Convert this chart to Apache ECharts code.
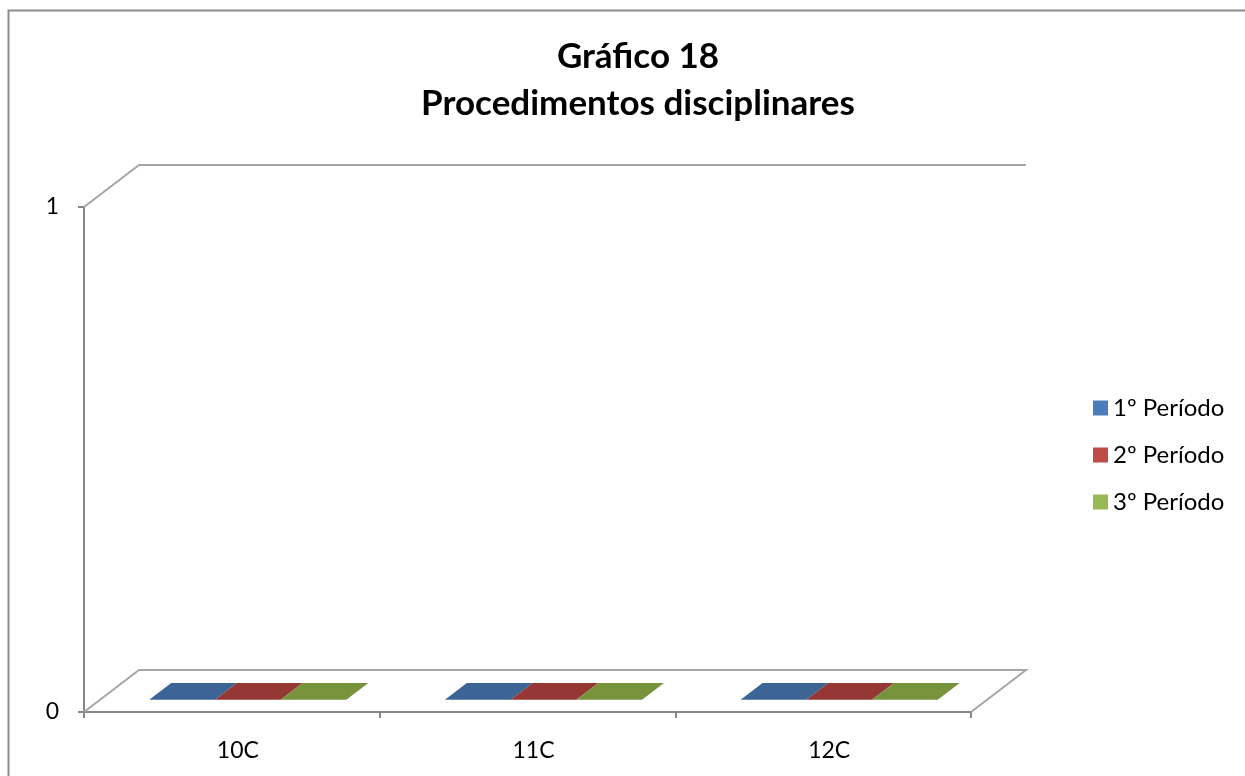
<!DOCTYPE html>
<html>
<head>
<meta charset="utf-8">
<script src="https://cdn.jsdelivr.net/npm/echarts@6/dist/echarts.min.js"></script>
<style>html,body{margin:0;padding:0;background:#fff;}#chart{width:1245px;height:776px;}</style>
</head>
<body>
<div id="chart"></div>
<script>
const titleText = "Gráfico 18\nProcedimentos disciplinares";
const categories = ["10C", "11C", "12C"];
const seriesNames = ["1º Período", "2º Período", "3º Período"];
const period1 = [0, 0, 0];
const period2 = [0, 0, 0];
const period3 = [0, 0, 0];
const yTicks = [0, 1];

const legendColors = ["#4a7ebb", "#be4b48", "#98b954"];
const topColors = ["#3c6494", "#953735", "#77933c"];
const frontColors = ["#4a7ebb", "#be4b48", "#98b954"];
const sideColors = ["#2f4f75", "#7a2d2b", "#5f7630"];
const DX = 55, DY = -42;
const F1 = 0.29, F2 = 0.69;
const FONT = "Lato";

const chart = echarts.init(document.getElementById('chart'));

function wallsRender(params, api) {
  const n = categories.length;
  const band = api.size([1, 0])[0];
  const p0 = api.coord([0, yTicks[0]]);
  const p1 = api.coord([n - 1, yTicks[yTicks.length - 1]]);
  const x0 = p0[0] - band / 2, x1 = p1[0] + band / 2;
  const yb = p0[1], yt = p1[1];
  const st = {stroke: '#a6a6a6', lineWidth: 2, fill: null};
  return {
    type: 'group',
    children: [
      {type: 'polyline', shape: {points: [[x0, yt], [x0 + DX, yt + DY], [x1 + DX, yt + DY]]}, style: st},
      {type: 'polyline', shape: {points: [[x0, yb], [x0 + DX, yb + DY], [x1 + DX, yb + DY], [x1, yb]]}, style: st}
    ]
  };
}

function barRender(si) {
  return function (params, api) {
    const idx = api.value(0), v = api.value(1);
    const top = api.coord([idx, v]);
    const base = api.coord([idx, 0]);
    const band = api.size([1, 0])[0];
    const bw = band / 4.5;
    const left = top[0] + (si - 1) * bw - bw / 2;
    const right = left + bw;
    const children = [];
    const ty = top[1], by = base[1];
    if (by - ty > 0.5) {
      children.push({type: 'polygon', shape: {points: [
        [right + F1 * DX, ty + F1 * DY], [right + F2 * DX, ty + F2 * DY],
        [right + F2 * DX, by + F2 * DY], [right + F1 * DX, by + F1 * DY]]},
        style: {fill: sideColors[si]}});
      children.push({type: 'polygon', shape: {points: [
        [left + F1 * DX, ty + F1 * DY], [right + F1 * DX, ty + F1 * DY],
        [right + F1 * DX, by + F1 * DY], [left + F1 * DX, by + F1 * DY]]},
        style: {fill: frontColors[si]}});
    }
    children.push({type: 'polygon', shape: {points: [
      [left + F1 * DX, ty + F1 * DY], [right + F1 * DX, ty + F1 * DY],
      [right + F2 * DX, ty + F2 * DY], [left + F2 * DX, ty + F2 * DY]]},
      style: {fill: topColors[si]}});
    return {type: 'group', children: children};
  };
}

const values = [period1, period2, period3];
const series = [{
  type: 'custom', name: '_walls', silent: true, z: 1,
  renderItem: wallsRender,
  data: [[0, 0]]
}];
values.forEach((arr, si) => {
  series.push({
    type: 'custom', name: seriesNames[si], z: 3,
    itemStyle: {color: legendColors[si]},
    renderItem: barRender(si),
    data: arr.map((v, i) => [i, v])
  });
});

chart.setOption({
  animation: false,
  backgroundColor: '#ffffff',
  title: {
    text: titleText,
    left: 633, top: 28, textAlign: 'center',
    textStyle: {fontFamily: FONT, fontWeight: 'bold', fontSize: 35, lineHeight: 47, color: '#000'}
  },
  legend: {
    data: seriesNames,
    orient: 'vertical', left: 1088, top: 391,
    icon: 'rect', itemWidth: 15, itemHeight: 15, itemGap: 23,
    textStyle: {fontFamily: FONT, fontSize: 24, color: '#000', lineHeight: 24, padding: [0, 0, 0, 0]}
  },
  grid: {left: 84, right: 274, top: 207, bottom: 64, containLabel: false},
  xAxis: {
    type: 'category', data: categories, boundaryGap: true,
    axisLine: {show: true, lineStyle: {color: '#868686', width: 2}},
    axisTick: {show: true, length: 6, lineStyle: {color: '#868686', width: 2}},
    axisLabel: {fontFamily: FONT, fontSize: 23, color: '#000', margin: 27, padding: [0, 0, 0, 12]},
    splitLine: {show: false}
  },
  yAxis: {
    type: 'value', min: yTicks[0], max: yTicks[yTicks.length - 1], interval: 1,
    axisLine: {show: true, lineStyle: {color: '#868686', width: 2}},
    axisTick: {show: true, length: 6, lineStyle: {color: '#868686', width: 2}},
    axisLabel: {fontFamily: FONT, fontSize: 23, color: '#000', margin: 25},
    splitLine: {show: false}
  },
  graphic: [{
    type: 'polyline', silent: true,
    shape: {points: [[8.5, 776], [8.5, 10.5], [1245, 10.5]]},
    style: {stroke: '#8c8c8c', lineWidth: 2, fill: null}
  }],
  series: series
});
</script>
</body>
</html>
